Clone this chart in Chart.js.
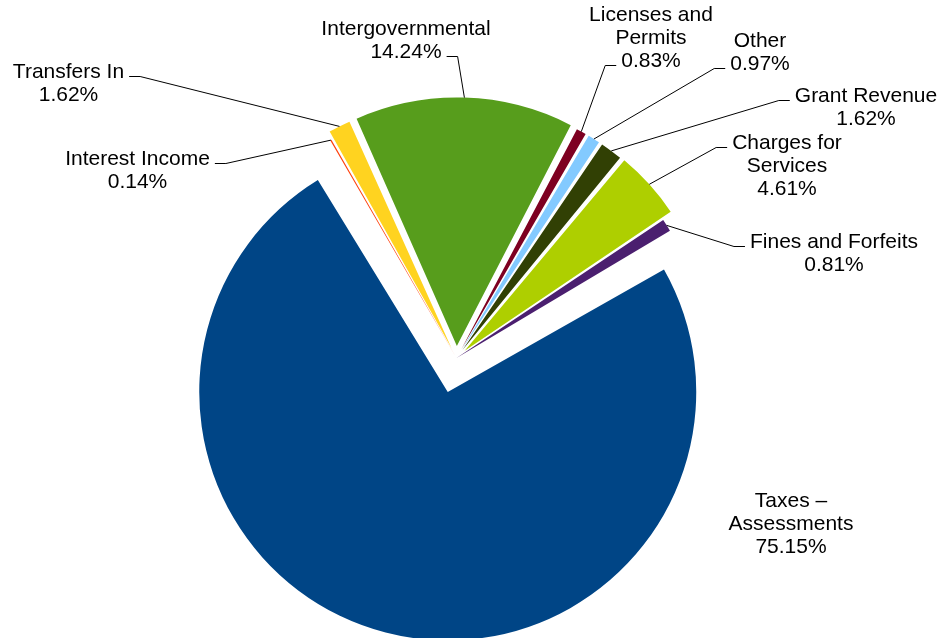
<!DOCTYPE html>
<html>
<head>
<meta charset="utf-8">
<script src="https://cdn.jsdelivr.net/npm/chart.js@4.4.1/dist/chart.umd.min.js"></script>
<style>
  html, body { margin: 0; padding: 0; background: #fff; }
</style>
</head>
<body>
<canvas id="myChart" width="940" height="638"></canvas>
<script>
// slices in clockwise order, starting with Taxes
const categories = ['Taxes – Assessments', 'Interest Income', 'Transfers In', 'Intergovernmental',
    'Licenses and Permits', 'Other', 'Grant Revenue', 'Charges for Services', 'Fines and Forfeits'];
const shares = [75.15, 0.14, 1.62, 14.24, 0.83, 0.97, 1.62, 4.61, 0.81];
const colors = ['#004586', '#ff420e', '#ffd320', '#579d1c', '#7e0021', '#83caff', '#314004', '#aecf00', '#4b1f6f'];
// how far each slice is pulled out, px
const explode = [35, 3, 11, 12, 10, 10, 10, 11, 0];

// label block: centre x / first baseline relative to the pie centre, wrap width, leader stub [line, side]
const labelLayout = [
    { dx: 334.5, dy: 149, wrap: 140, stub: null },
    { dx: -319, dy: -193, wrap: 0, stub: [0, 'right'] },
    { dx: -388, dy: -280, wrap: 0, stub: [0, 'right'] },
    { dx: -50.5, dy: -323, wrap: 0, stub: [1, 'right'] },
    { dx: 194.5, dy: -337, wrap: 150, stub: [2, 'left'] },
    { dx: 303.5, dy: -311, wrap: 0, stub: [1, 'left'] },
    { dx: 409.5, dy: -256, wrap: 0, stub: [0, 'left'] },
    { dx: 330.5, dy: -209, wrap: 150, stub: [0, 'left'] },
    { dx: 377.5, dy: -110, wrap: 0, stub: [0, 'left'] }
];

const labelFont = '21px "Liberation Sans", Arial, sans-serif';
const lineH = 23;

function wrapText(ctx, text, maxW) {
    if (!maxW) return [text];
    const lines = [];
    let cur = '';
    text.split(' ').forEach(w => {
        const test = cur ? cur + ' ' + w : w;
        if (cur && ctx.measureText(test).width > maxW) {
            lines.push(cur);
            cur = w;
        } else {
            cur = test;
        }
    });
    lines.push(cur);
    return lines;
}

// Chart.js grows the radius of offset arcs, pull it back so all slices share one radius
const keepRadius = {
    id: 'keepRadius',
    beforeDatasetsDraw(chart) {
        const meta = chart.getDatasetMeta(0);
        const base = meta.controller.outerRadius;
        meta.data.forEach(arc => {
            const t = (arc.options.offset || 0) / 4;
            const fix = 1 - Math.sin(Math.min(Math.PI, arc.circumference));
            arc.outerRadius = base - t * fix;
        });
    }
};

const pieLabels = {
    id: 'pieLabels',
    afterDatasetsDraw(chart) {
        const ctx = chart.ctx;
        const meta = chart.getDatasetMeta(0);
        const base = meta.controller.outerRadius;
        ctx.save();
        ctx.font = labelFont;
        ctx.fillStyle = '#000';
        ctx.strokeStyle = '#000';
        ctx.lineWidth = 1;
        ctx.textAlign = 'center';
        ctx.textBaseline = 'alphabetic';
        meta.data.forEach((arc, i) => {
            const lay = labelLayout[i];
            const cx = arc.x + lay.dx;
            const y0 = arc.y + lay.dy;
            const lines = wrapText(ctx, categories[i], lay.wrap);
            lines.push(shares[i].toFixed(2) + '%');
            lines.forEach((s, k) => ctx.fillText(s, cx, y0 + k * lineH));
            if (!lay.stub) return;

            const [k, side] = lay.stub;
            const w = ctx.measureText(lines[k]).width;
            const sy = Math.round(y0 + k * lineH - 2) + 0.5;
            const sx = side === 'right' ? cx + w / 2 + 5 : cx - w / 2 - 5;
            const ex = side === 'right' ? sx + 11 : sx - 11;
            const mid = (arc.startAngle + arc.endAngle) / 2;
            const dist = (arc.options.offset || 0) / 4 + base;
            const ax = arc.x + Math.cos(mid) * dist;
            const ay = arc.y + Math.sin(mid) * dist;
            ctx.beginPath();
            ctx.moveTo(sx, sy);
            ctx.lineTo(ex, sy);
            ctx.lineTo(ax, ay);
            ctx.stroke();
        });
        ctx.restore();
    }
};

new Chart(document.getElementById('myChart'), {
    type: 'pie',
    data: {
        labels: categories,
        datasets: [{
            data: shares,
            backgroundColor: colors,
            borderWidth: 0,
            offset: explode.map(v => v * 4)
        }]
    },
    options: {
        responsive: false,
        animation: false,
        rotation: 59.2,
        radius: 248.5,
        layout: {
            padding: { left: 0, right: 27, top: 78, bottom: 0 }
        },
        plugins: {
            legend: { display: false },
            tooltip: { enabled: false }
        }
    },
    plugins: [keepRadius, pieLabels]
});
</script>
</body>
</html>
